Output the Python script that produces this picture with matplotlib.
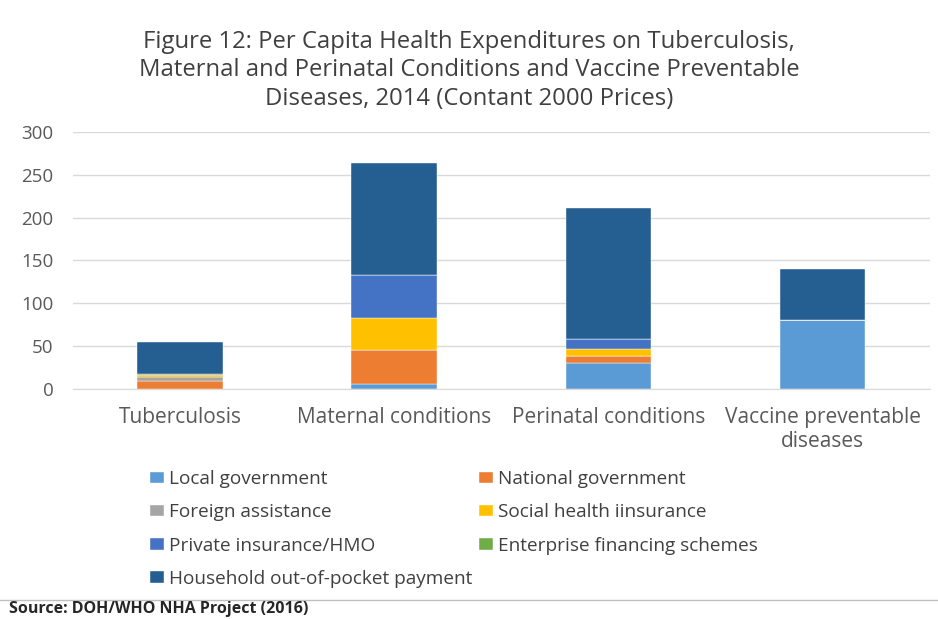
import matplotlib.pyplot as plt
import numpy as np

plt.rcParams['font.family'] = ['Open Sans', 'DejaVu Sans']

categories = ["Tuberculosis", "Maternal conditions", "Perinatal conditions",
              "Vaccine preventable\ndiseases"]
local_gov = [0.5, 5.5, 30, 80]
national_gov = [9, 40, 9, 0]
foreign_aid = [5, 0, 0, 1]
social_ins = [2, 37, 8, 0]
private_ins = [0.5, 50.5, 11.5, 0]
enterprise = [0, 0, 0, 0]
household = [38, 130.5, 153, 59]

series = [
    ("Local government", local_gov, "#5B9BD5"),
    ("National government", national_gov, "#ED7D31"),
    ("Foreign assistance", foreign_aid, "#A5A5A5"),
    ("Social health iinsurance", social_ins, "#FFC000"),
    ("Private insurance/HMO", private_ins, "#4472C4"),
    ("Enterprise financing schemes", enterprise, "#70AD47"),
    ("Household out-of-pocket payment", household, "#255E91"),
]

fig = plt.figure(figsize=(9.38, 6.19), dpi=100)
ax = fig.add_axes([0.078, 0.3716, 0.913, 0.4152])

x = np.arange(len(categories))
bottom = np.zeros(len(categories))
handles = {}
for name, vals, col in series:
    b = ax.bar(x, vals, 0.4, bottom=bottom, color=col, label=name,
               edgecolor='white', linewidth=0.3)
    handles[name] = b
    bottom += np.array(vals)

ax.set_ylim(0, 300)
ax.set_xlim(-0.5, 3.5)
ax.set_yticks(range(0, 301, 50))
ax.yaxis.grid(True, color='#D9D9D9', linewidth=1)
ax.set_axisbelow(True)
for s in ['top', 'right', 'left']:
    ax.spines[s].set_visible(False)
ax.spines['bottom'].set_color('#D9D9D9')
ax.tick_params(axis='both', length=0, colors='#595959')
ax.tick_params(axis='y', pad=14, labelsize=13.5)
ax.tick_params(axis='x', pad=13)
ax.set_xticks(x)
ax.set_xticklabels(categories, fontsize=15, linespacing=1.2)

fig.text(0.5, 0.952, "Figure 12: Per Capita Health Expenditures on Tuberculosis,\n"
         "Maternal and Perinatal Conditions and Vaccine Preventable\n"
         "Diseases, 2014 (Contant 2000 Prices)",
         ha='center', va='top', fontsize=17.2, color='#404040', linespacing=1.25)

# legend is filled column by column, so reorder for row-wise look
order = [0, 2, 4, 6, 1, 3, 5]
hl = [handles[series[i][0]] for i in order]
lb = [series[i][0] for i in order]
fig.legend(hl, lb, ncol=2, loc='upper left', bbox_to_anchor=(0.144, 0.265),
           frameon=False, fontsize=13.7, labelcolor='#404040',
           handlelength=0.7, handleheight=0.55, handletextpad=0.3,
           labelspacing=0.8, columnspacing=0.35, borderpad=0.3)

fig.add_artist(plt.Line2D([0, 1], [0.03, 0.03], color='#BFBFBF', linewidth=1))
fig.text(0.01, 0.003, "Source: DOH/WHO NHA Project (2016)", ha='left', va='bottom',
         fontsize=11.5, fontweight='bold', color='#262626')

fig.savefig("out.png", dpi=100)
